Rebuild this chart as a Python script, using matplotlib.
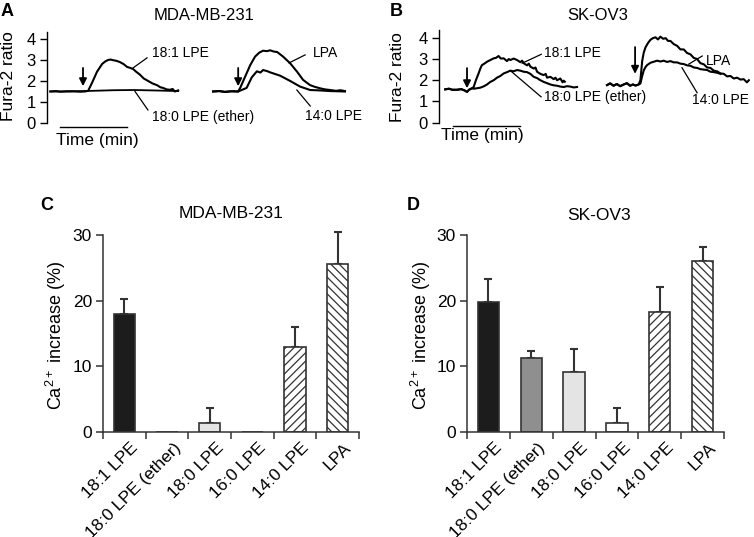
import matplotlib
matplotlib.use("Agg")
import matplotlib.pyplot as plt
import matplotlib.transforms as mtransforms
import numpy as np

plt.rcParams['font.family'] = ['Liberation Sans', 'DejaVu Sans']
plt.rcParams['mathtext.fontset'] = 'custom'
plt.rcParams['mathtext.rm'] = 'Liberation Sans'
plt.rcParams['hatch.linewidth'] = 0.9

# ---- Fura-2 traces, panel A (MDA-MB-231); time in s ----
a_181_t = [15, 40, 60, 90, 120, 150, 170, 185, 202, 225, 248, 262, 275, 286, 297, 312, 328, 345, 360, 375, 387, 400, 418, 435, 455, 475, 495, 510, 522, 538, 553, 565, 575, 590]
a_181_v = [1.50, 1.52, 1.49, 1.51, 1.51, 1.49, 1.50, 1.53, 1.90, 2.44, 2.81, 2.93, 3.00, 3.02, 2.99, 2.96, 2.90, 2.80, 2.67, 2.62, 2.57, 2.45, 2.30, 2.12, 2.00, 1.88, 1.80, 1.70, 1.67, 1.60, 1.58, 1.62, 1.50, 1.55]
a_ether_t = [15, 100, 200, 300, 390, 480, 590]
a_ether_v = [1.50, 1.50, 1.53, 1.56, 1.57, 1.55, 1.52]
a_lpa_t = [747, 775, 800, 830, 860, 869, 891, 914, 936, 955, 972, 990, 1004, 1020, 1035, 1062, 1094, 1125, 1152, 1184, 1205, 1229, 1250, 1274, 1300, 1320, 1340]
a_lpa_v = [1.50, 1.52, 1.48, 1.51, 1.50, 1.67, 2.20, 2.75, 3.16, 3.35, 3.44, 3.42, 3.46, 3.40, 3.38, 3.16, 2.84, 2.44, 2.05, 1.80, 1.72, 1.65, 1.60, 1.57, 1.53, 1.56, 1.52]
a_140_t = [747, 775, 800, 830, 860, 898, 921, 944, 960, 972, 990, 1004, 1049, 1094, 1139, 1184, 1229, 1274, 1340]
a_140_v = [1.50, 1.52, 1.48, 1.51, 1.50, 1.67, 2.17, 2.46, 2.40, 2.52, 2.47, 2.41, 2.25, 2.00, 1.73, 1.57, 1.55, 1.52, 1.50]
a_arrow_t = [162, 860]

# ---- Fura-2 traces, panel B (SK-OV3) ----
b_base_t = [28, 45, 60, 81, 100, 115, 126, 135, 148]
b_base_v = [1.57, 1.60, 1.55, 1.55, 1.58, 1.52, 1.45, 1.55, 1.62]
b_181_t = b_base_t + [156, 166, 178, 186, 193, 204, 216, 231, 246, 256, 268, 278, 291, 306, 314, 321, 336, 351, 366, 374, 381, 396, 404, 411, 426, 434, 441, 456, 471, 480, 486, 501, 516, 524, 531, 546, 556, 561, 566]
b_181_v = b_base_v + [1.68, 2.00, 2.32, 2.55, 2.71, 2.78, 2.87, 2.95, 3.03, 3.05, 3.14, 3.02, 3.03, 2.90, 3.00, 2.95, 3.02, 2.95, 2.85, 2.92, 2.80, 2.70, 2.78, 2.64, 2.55, 2.60, 2.40, 2.30, 2.24, 2.30, 2.12, 2.16, 2.05, 2.12, 2.00, 2.08, 1.90, 1.98, 1.93]
b_ether_t = b_base_t + [156, 170, 186, 201, 216, 231, 246, 261, 276, 291, 306, 321, 336, 351, 366, 381, 396, 411, 426, 441, 456, 471, 486, 501, 516, 531, 546, 561, 576, 591, 606, 621]
b_ether_v = b_base_v + [1.60, 1.62, 1.65, 1.71, 1.80, 1.92, 2.00, 2.12, 2.20, 2.32, 2.38, 2.45, 2.42, 2.48, 2.45, 2.40, 2.38, 2.30, 2.16, 2.10, 2.00, 1.92, 1.86, 1.80, 1.76, 1.74, 1.70, 1.68, 1.72, 1.70, 1.66, 1.68]
b_base2_t = [756, 770, 785, 800, 815, 831, 845, 860, 872, 884, 893, 898]
b_base2_v = [1.77, 1.85, 1.74, 1.82, 1.72, 1.80, 1.86, 1.74, 1.80, 1.75, 1.78, 1.80]
b_lpa_t = b_base2_t + [906, 914, 921, 929, 940, 951, 962, 974, 985, 996, 1008, 1020, 1030, 1041, 1056, 1071, 1086, 1101, 1116, 1131, 1146, 1161, 1176, 1191, 1206, 1221, 1236, 1251, 1266, 1281, 1296, 1311, 1326, 1341, 1356, 1371, 1385, 1394]
b_lpa_v = b_base2_v + [2.00, 2.90, 3.30, 3.55, 3.75, 3.90, 3.98, 4.02, 3.92, 4.05, 3.95, 3.98, 3.85, 3.85, 3.70, 3.62, 3.45, 3.45, 3.28, 3.22, 3.05, 3.00, 2.80, 2.75, 2.60, 2.58, 2.45, 2.42, 2.32, 2.30, 2.18, 2.20, 2.08, 2.12, 2.03, 2.05, 1.90, 2.00]
b_140_t = b_base2_t + [906, 914, 921, 929, 936, 951, 966, 981, 996, 1011, 1026, 1041, 1056, 1071, 1086, 1101, 1116, 1131, 1146, 1161, 1176, 1191, 1206, 1221, 1236, 1251, 1266]
b_140_v = b_base2_v + [1.84, 2.20, 2.46, 2.62, 2.71, 2.82, 2.87, 2.92, 2.88, 2.92, 2.86, 2.90, 2.84, 2.84, 2.78, 2.76, 2.70, 2.68, 2.60, 2.58, 2.52, 2.50, 2.48, 2.40, 2.38, 2.35, 2.30]
b_arrow_t = [126, 882]

# ---- Ca2+ increase (%) bar charts, panels C and D ----
categories = ['18:1 LPE', '18:0 LPE (ether)', '18:0 LPE', '16:0 LPE', '14:0 LPE', 'LPA']
c_mean = [17.9, 0, 1.3, 0, 13.0, 25.6]
c_err = [2.4, 0, 2.3, 0, 3.0, 4.9]
d_mean = [19.8, 11.2, 9.1, 1.4, 18.3, 26.0]
d_err = [3.5, 1.2, 3.6, 2.3, 3.8, 2.1]
bar_colors = ['#1c1c1c', '#8f8f8f', '#e4e4e4', 'white', 'white', 'white']
bar_hatches = ['', '', '', '', '////', '\\\\\\\\']

W, H = 754, 537
fig = plt.figure(figsize=(W / 100, H / 100), dpi=100)


def add_axes_px(left, top, right, bottom):
    return fig.add_axes([left / W, 1 - bottom / H, (right - left) / W, (bottom - top) / H])


def fig_text(x, y, s, **kw):
    fig.text(x / W, 1 - y / H, s, ha=kw.pop('ha', 'center'), va=kw.pop('va', 'center'), **kw)


def style_trace_axes(ax, xmax):
    ax.set_xlim(0, xmax)
    ax.set_ylim(0, 4.35)
    for s in ['top', 'right', 'bottom']:
        ax.spines[s].set_visible(False)
    ax.spines['left'].set_linewidth(1.0)
    ax.set_xticks([])
    ax.set_yticks([0, 1, 2, 3, 4])
    ax.tick_params(axis='y', length=5, width=1.0, pad=3, labelsize=12)
    ax.patch.set_alpha(0)


def pointer(ax, text, tx, ty, x1, y1, x2, y2, size=10):
    ax.text(tx, ty, text, fontsize=size, ha='left', va='center')
    ax.plot([x1, x2], [y1, y2], color='k', lw=0.9, clip_on=False)


def arrow(ax, t, v_top, v_bot):
    ax.annotate('', xy=(t, v_bot), xytext=(t, v_top),
                arrowprops=dict(arrowstyle='-|>', color='k', lw=1.3, mutation_scale=11,
                                shrinkA=0, shrinkB=0))


# panel A
axA = add_axes_px(47, 31.6, 350, 123)
style_trace_axes(axA, 1363)
axA.plot(a_ether_t, a_ether_v, color='k', lw=1.3)
axA.plot(a_181_t, a_181_v, color='k', lw=1.5)
axA.plot(a_140_t, a_140_v, color='k', lw=1.5)
axA.plot(a_lpa_t, a_lpa_v, color='k', lw=1.5)
for t in a_arrow_t:
    arrow(axA, t, 2.62, 1.75)
pointer(axA, '18:1 LPE', 472, 3.33, 450, 3.1, 387, 2.62)
pointer(axA, '18:0 LPE (ether)', 472, 0.29, 454, 0.62, 396, 1.5)
pointer(axA, 'LPA', 1197, 3.33, 1161, 3.24, 1089, 2.86)
pointer(axA, '14:0 LPE', 1161, 0.33, 1184, 0.81, 1124, 1.57)
axA.plot([58, 358], [-0.19, -0.19], color='k', lw=1.0, clip_on=False)
axA.text(225, -0.81, 'Time (min)', ha='center', va='center', fontsize=12.5)

# panel B
axB = add_axes_px(439, 30.3, 750, 122.7)
style_trace_axes(axB, 1399)
axB.plot(b_ether_t, b_ether_v, color='k', lw=1.5)
axB.plot(b_181_t, b_181_v, color='k', lw=1.5)
axB.plot(b_140_t, b_140_v, color='k', lw=1.5)
axB.plot(b_lpa_t, b_lpa_v, color='k', lw=1.5)
arrow(axB, b_arrow_t[0], 2.57, 1.62)
arrow(axB, b_arrow_t[1], 3.56, 2.3)
pointer(axB, '18:1 LPE', 471, 3.27, 460, 3.22, 374, 2.80)
pointer(axB, '18:0 LPE (ether)', 471, 1.22, 459, 1.22, 321, 2.45)
pointer(axB, 'LPA', 1199, 2.90, 1184, 3.14, 1124, 2.76)
pointer(axB, '14:0 LPE', 1139, 1.07, 1161, 1.41, 1093, 2.59)
axB.plot([63, 363], [-0.16, -0.16], color='k', lw=1.0, clip_on=False)
axB.text(194, -0.58, 'Time (min)', ha='center', va='center', fontsize=12.5)

fig_text(7, 11, 'A', fontsize=13, fontweight='bold')
fig_text(396, 11, 'B', fontsize=13, fontweight='bold')
fig_text(204, 15, 'MDA-MB-231', fontsize=12)
fig_text(598, 15, 'SK-OV3', fontsize=12)
fig_text(9, 76, 'Fura-2 ratio', fontsize=12.5, rotation=90)
fig_text(398, 77, 'Fura-2 ratio', fontsize=12.5, rotation=90)


def bar_panel(left, right, means, errs, ylabel_x):
    ax = add_axes_px(left, 235, right, 432)
    x = np.arange(len(categories))
    ax.bar(x, means, width=0.5, color=bar_colors, edgecolor='#333333', linewidth=1.2,
           hatch=bar_hatches, zorder=2)
    ex = [i for i in x if errs[i] > 0]
    ax.errorbar(ex, [means[i] for i in ex], yerr=[[0] * len(ex), [errs[i] for i in ex]],
                fmt='none', ecolor='#333333', elinewidth=1.5, capsize=3.2, capthick=1.5,
                zorder=1, clip_on=False)
    ax.set_xlim(-0.5, 5.5)
    ax.set_ylim(0, 30)
    for s in ['top', 'right']:
        ax.spines[s].set_visible(False)
    for s in ['left', 'bottom']:
        ax.spines[s].set_linewidth(1.1)
        ax.spines[s].set_color('#333333')
    ax.set_yticks([0, 10, 20, 30])
    ax.tick_params(axis='y', length=5, width=1.1, pad=3, labelsize=12.5, color='#333333')
    ax.set_xticks(x)
    ax.set_xticklabels(categories, rotation=45, ha='right', rotation_mode='anchor', fontsize=12.5)
    ax.set_xticks(np.arange(-0.5, 6.0, 1.0), minor=True)
    ax.tick_params(axis='x', which='major', length=0, pad=6)
    ax.tick_params(axis='x', which='minor', length=5, width=1.1, color='#333333')
    offset = mtransforms.ScaledTranslation(6 / 100, 0, fig.dpi_scale_trans)
    for lab in ax.get_xticklabels():
        lab.set_transform(lab.get_transform() + offset)
    fig_text(ylabel_x, 335, 'Ca$^{\\mathrm{2+}}$ increase (%)', fontsize=13, rotation=90)
    return ax


bar_panel(103, 359, c_mean, c_err, 56)
bar_panel(467, 724, d_mean, d_err, 421)
fig_text(47, 205, 'C', fontsize=13, fontweight='bold')
fig_text(413, 205, 'D', fontsize=13, fontweight='bold')
fig_text(231, 213, 'MDA-MB-231', fontsize=12.5)
fig_text(599, 215, 'SK-OV3', fontsize=12.5)

fig.savefig('out.png', dpi=100)
